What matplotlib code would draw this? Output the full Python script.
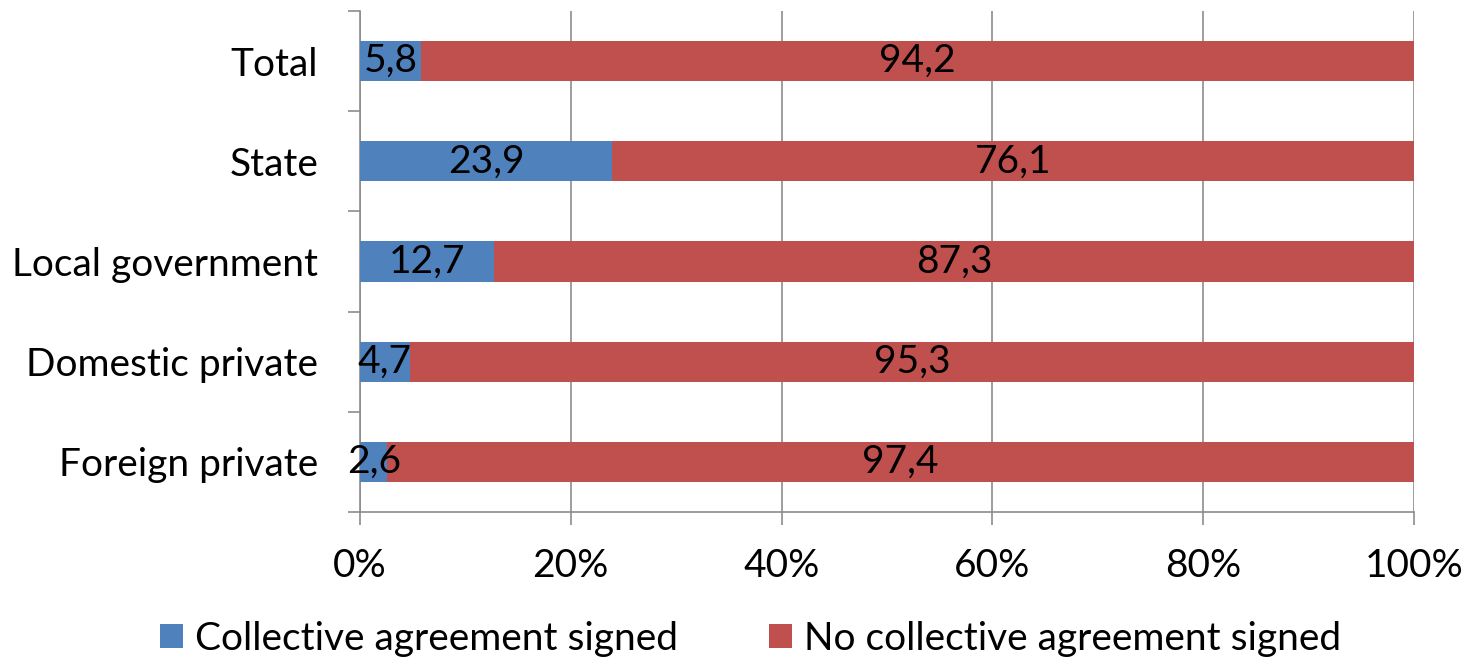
import numpy as np
import matplotlib
matplotlib.use("Agg")
import matplotlib.pyplot as plt
from matplotlib.ticker import FixedLocator, PercentFormatter

plt.rcParams['font.family'] = ['Lato', 'DejaVu Sans']

categories = ["Total", "State", "Local government", "Domestic private", "Foreign private"]
signed = [5.8, 23.9, 12.7, 4.7, 2.6]
not_signed = [94.2, 76.1, 87.3, 95.3, 97.4]
series_names = ["Collective agreement signed", "No collective agreement signed"]

blue = "#4F81BD"
red = "#C0504D"
grey = "#8C8C8C"
fs = 28

fig = plt.figure(figsize=(14.77, 6.62), dpi=100)
ax = fig.add_axes([360/1477, 1 - 512/662, (1414 - 360)/1477, (512 - 11)/662])

y = np.arange(len(categories))
b1 = ax.barh(y, signed, height=0.4, color=blue, label=series_names[0], zorder=3)
b2 = ax.barh(y, not_signed, left=signed, height=0.4, color=red, label=series_names[1], zorder=3)

def lab(v):
    return f"{v:.1f}".replace(".", ",")

for bars, vals, lefts in [(b1, signed, [0]*5), (b2, not_signed, signed)]:
    for yi, v, l in zip(y, vals, lefts):
        ax.text(l + v / 2, yi, lab(v), ha="center", va="center", fontsize=fs, color="black", zorder=4)

ax.set_xlim(0, 100)
ax.set_ylim(len(categories) - 0.5, -0.5)
ax.set_xticks(np.arange(0, 101, 20))
ax.xaxis.set_major_formatter(PercentFormatter(decimals=0))
ax.set_yticks(y)
ax.set_yticklabels(categories)
ax.yaxis.set_minor_locator(FixedLocator(np.arange(-0.5, len(categories), 1)))

ax.tick_params(axis="x", length=9, width=1.2, color=grey, pad=17, labelsize=fs)
ax.tick_params(axis="y", which="major", length=0, pad=30, labelsize=fs)
ax.tick_params(axis="y", which="minor", length=9, width=1.2, color=grey)

ax.grid(axis="x", color=grey, linewidth=1.2, zorder=0)
for s in ["top", "right"]:
    ax.spines[s].set_visible(False)
for s in ["left", "bottom"]:
    ax.spines[s].set_color(grey)
    ax.spines[s].set_linewidth(1.2)

fig.legend(handles=[b1, b2], loc="lower center", bbox_to_anchor=(0.508, -0.045), ncol=2,
           frameon=False, fontsize=fs, handlelength=0.6, handleheight=0.6,
           handletextpad=0.3, columnspacing=2.35)

fig.savefig("out.png", dpi=100)
